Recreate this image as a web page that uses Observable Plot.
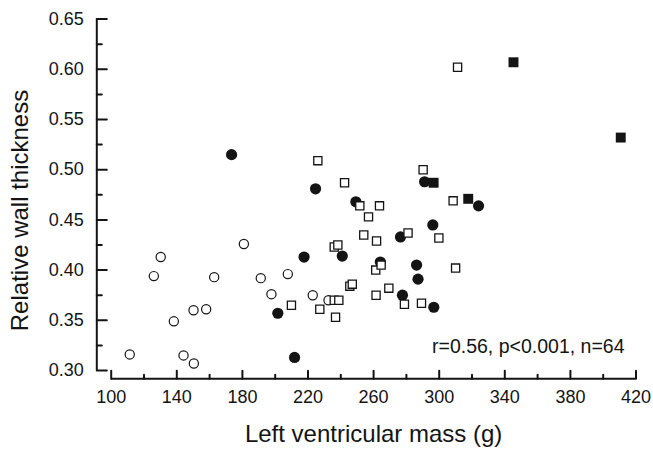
<!DOCTYPE html>
<html>
<head>
<meta charset="utf-8">
<script src="https://cdn.jsdelivr.net/npm/d3@7"></script>
<script src="https://cdn.jsdelivr.net/npm/@observablehq/plot@0.6"></script>
<style>
  html, body { margin: 0; padding: 0; background: #ffffff; }
</style>
</head>
<body>
<div id="chart"></div>
<script>
// ---- Data ----
const openCircleMass = [111.3, 126.0, 130.2, 138.2, 144.1, 150.4, 150.2, 157.9, 162.8, 180.9, 191.2, 197.7, 207.7, 222.9, 232.5];
const openCircleRwt  = [0.316, 0.394, 0.413, 0.349, 0.315, 0.307, 0.360, 0.361, 0.393, 0.426, 0.392, 0.376, 0.396, 0.375, 0.370];

const filledCircleMass = [173.4, 224.6, 249.2, 217.6, 201.6, 211.8, 240.9, 264.1, 276.4, 277.6, 286.2, 287.1, 291.1, 296.1, 296.7, 324.0];
const filledCircleRwt  = [0.515, 0.481, 0.468, 0.413, 0.357, 0.313, 0.414, 0.408, 0.433, 0.375, 0.405, 0.391, 0.488, 0.445, 0.363, 0.464];

const openSquareMass = [311.2, 290.2, 308.5, 226.0, 242.3, 251.6, 263.6, 256.9, 254.0, 261.8, 281.0, 236.0, 238.2, 261.3,
                        264.6, 245.5, 247.0, 269.3, 261.5, 278.8, 289.2, 209.9, 227.2, 236.0, 238.8, 236.8, 299.8, 310.0];
const openSquareRwt  = [0.602, 0.500, 0.469, 0.509, 0.487, 0.464, 0.464, 0.453, 0.435, 0.429, 0.437, 0.423, 0.425, 0.400,
                        0.405, 0.384, 0.386, 0.382, 0.375, 0.366, 0.367, 0.365, 0.361, 0.370, 0.370, 0.353, 0.432, 0.402];

const filledSquareMass = [345.3, 410.7, 296.6, 317.7];
const filledSquareRwt  = [0.607, 0.532, 0.487, 0.471];

const xTicks = [100, 140, 180, 220, 260, 300, 340, 380, 420];
const xMinorTicks = [120, 160, 200, 240, 280, 320, 360, 400];
const yTicks = [0.30, 0.35, 0.40, 0.45, 0.50, 0.55, 0.60, 0.65];
const yMinorTicks = [0.325, 0.375, 0.425, 0.475, 0.525, 0.575, 0.625];

const xLabel = "Left ventricular mass (g)";
const yLabel = "Relative wall thickness";
const note = "r=0.56, p<0.001, n=64";

// ---- Build rows ----
const rows = (xs, ys) => xs.map((x, i) => ({mass: x, rwt: ys[i]}));
const openCircles = rows(openCircleMass, openCircleRwt);
const filledCircles = rows(filledCircleMass, filledCircleRwt);
const openSquares = rows(openSquareMass, openSquareRwt);
const filledSquares = rows(filledSquareMass, filledSquareRwt);

const ink = "#141414";
const tickShape = { draw(context, l) { context.moveTo(0, 0); context.lineTo(0, -l); } };
const yAxisDx = -14.4;
const xAxisDy = 8.3;

const chart = Plot.plot({
  width: 653,
  height: 449,
  marginLeft: 110.7,
  marginRight: 17.5,
  marginTop: 18.6,
  marginBottom: 79,
  x: {domain: [100, 420], axis: null},
  y: {domain: [0.30, 0.65], axis: null},
  style: {fontFamily: "'Liberation Sans', Arial, Helvetica, sans-serif", background: "#ffffff", color: ink},
  marks: [
    // axis lines
    Plot.ruleX([xTicks[0]], {y1: yTicks[0], y2: yTicks[yTicks.length - 1], dx: yAxisDx, stroke: ink, strokeWidth: 2}),
    Plot.ruleY([yTicks[0]], {x1: xTicks[0], x2: xTicks[xTicks.length - 1], dy: xAxisDy, stroke: ink, strokeWidth: 2}),
    // y ticks (inward)
    Plot.vector(yTicks, {x: xTicks[0], y: d => d, dx: yAxisDx, length: 10, rotate: 90, anchor: "start", shape: tickShape, stroke: ink, strokeWidth: 2}),
    Plot.vector(yMinorTicks, {x: xTicks[0], y: d => d, dx: yAxisDx, length: 5, rotate: 90, anchor: "start", shape: tickShape, stroke: ink, strokeWidth: 2}),
    // x ticks (inward / upward)
    Plot.vector(xTicks, {x: d => d, y: yTicks[0], dy: xAxisDy, length: 8, rotate: 0, anchor: "start", shape: tickShape, stroke: ink, strokeWidth: 2}),
    Plot.vector(xMinorTicks, {x: d => d, y: yTicks[0], dy: xAxisDy, length: 4, rotate: 0, anchor: "start", shape: tickShape, stroke: ink, strokeWidth: 2}),
    // tick labels
    Plot.text(xTicks, {x: d => d, y: yTicks[0], text: d => String(d), lineAnchor: "top", dy: 20, fontSize: 18, fill: ink}),
    Plot.text(yTicks, {x: xTicks[0], y: d => d, text: d => d.toFixed(2), textAnchor: "end", lineAnchor: "middle", dx: -27.4, fontSize: 18, fill: ink}),
    // axis titles
    Plot.text([xLabel], {frameAnchor: "bottom", text: d => d, textAnchor: "middle", lineAnchor: "middle", dy: 64.3, fontSize: 24, fill: ink}),
    Plot.text([yLabel], {frameAnchor: "left", text: d => d, rotate: -90, textAnchor: "middle", lineAnchor: "middle", dx: -90.4, dy: 15.7, fontSize: 24, fill: ink}),
    // data
    Plot.dot(openCircles, {x: "mass", y: "rwt", r: 4.6, fill: "#ffffff", stroke: ink, strokeWidth: 1.2}),
    Plot.dot(filledCircles, {x: "mass", y: "rwt", r: 5.6, fill: ink, stroke: "none"}),
    Plot.dot(openSquares, {x: "mass", y: "rwt", symbol: "square", r: 4.6, fill: "#ffffff", stroke: ink, strokeWidth: 1.3}),
    Plot.dot(filledSquares, {x: "mass", y: "rwt", symbol: "square", r: 5.6, fill: ink, stroke: "none"}),
    // annotation
    Plot.text([note], {frameAnchor: "bottom-right", text: d => d, textAnchor: "end", lineAnchor: "middle", dx: -11.5, dy: -24.1, fontSize: 19.5, fill: ink})
  ]
});

document.getElementById("chart").appendChild(chart);
</script>
</body>
</html>
